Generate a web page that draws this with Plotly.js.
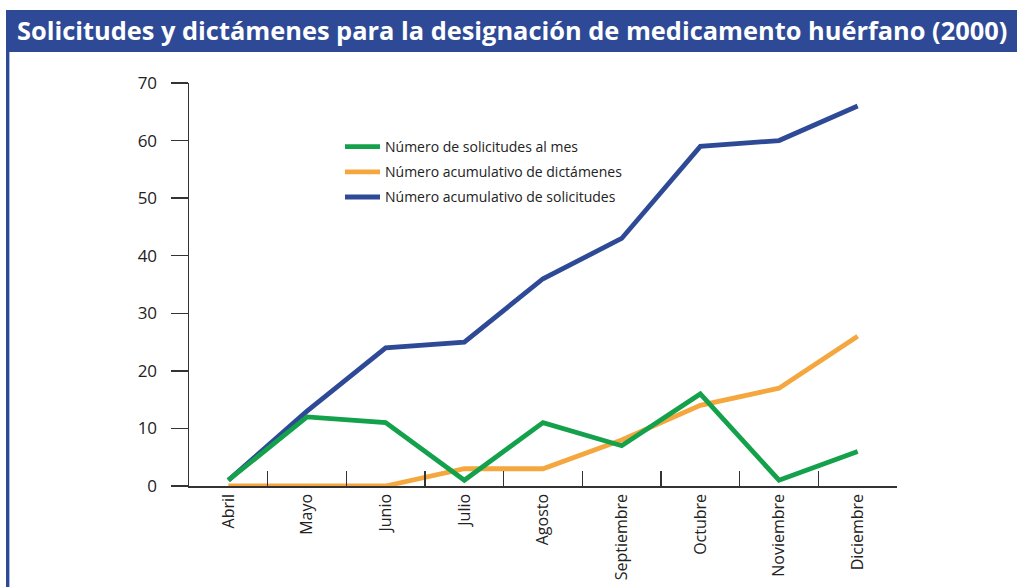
<!DOCTYPE html>
<html>
<head>
<meta charset="utf-8">
<script src="https://cdn.plot.ly/plotly-3.0.1.min.js"></script>
<style>
  html, body { margin: 0; padding: 0; background: #fff; }
  #grafico { width: 1017px; height: 587px; }
</style>
</head>
<body>
<div id="grafico"></div>
<script>
// Datos (año 2000)
const meses = ['Abril', 'Mayo', 'Junio', 'Julio', 'Agosto', 'Septiembre', 'Octubre', 'Noviembre', 'Diciembre'];
const solicitudesMes = [1, 12, 11, 1, 11, 7, 16, 1, 6];
const dictamenesAcum = [0, 0, 0, 3, 3, 8, 14, 17, 26];
const solicitudesAcum = [1, 13, 24, 25, 36, 43, 59, 60, 66];
const yTicks = [0, 10, 20, 30, 40, 50, 60, 70];

const azul = '#2e4a97';
const naranja = '#f5a73f';
const verde = '#14a14c';
const fuente = '"Open Sans", "Noto Sans", sans-serif';

// Márgenes en píxeles -> zona de trazado 189..897 x 83..486
const W = 1017, H = 587;
const m = { l: 189, r: 120, t: 83, b: 101 };
const pw = W - m.l - m.r, ph = H - m.t - m.b;
const px = (x) => (x - m.l) / pw;      // píxel -> coordenada paper
const py = (y) => (H - m.b - y) / ph;

function serie(nombre, valores, color, rango) {
    return {
        type: 'scatter', mode: 'lines',
        x: meses, y: valores, name: nombre,
        legendgroup: nombre, legendrank: rango,
        line: { color: color, width: 4.8 },
        hoverinfo: 'skip'
    };
}

// orden de dibujo: azul debajo, verde encima
const data = [
    serie('Número acumulativo de solicitudes', solicitudesAcum, azul, 3),
    serie('Número acumulativo de dictámenes', dictamenesAcum, naranja, 2),
    serie('Número de solicitudes al mes', solicitudesMes, verde, 1)
];

const layout = {
    width: W, height: H,
    margin: m,
    paper_bgcolor: '#ffffff',
    plot_bgcolor: '#ffffff',
    font: { family: fuente, color: '#222' },
    title: {
        text: '<b>Solicitudes y dictámenes para la designación de medicamento huérfano (2000)</b>',
        font: { family: fuente, size: 25.4, color: '#ffffff' },
        xref: 'container', x: 17 / W, xanchor: 'left',
        yref: 'container', y: 1 - 31 / H, yanchor: 'middle'
    },
    showlegend: true,
    legend: {
        x: px(340), y: py(131), xanchor: 'left', yanchor: 'top',
        traceorder: 'grouped', tracegroupgap: 4, itemwidth: 35,
        font: { family: fuente, size: 14, color: '#222' },
        bgcolor: 'rgba(0,0,0,0)'
    },
    xaxis: {
        type: 'category', range: [-0.5, 8.5],
        tickson: 'boundaries', ticks: 'inside', ticklen: 15, tickwidth: 1.2, tickcolor: '#333',
        showline: true, linecolor: '#333', linewidth: 1.5,
        showgrid: false, zeroline: false,
        tickangle: -90, ticklabelstandoff: 0,
        tickfont: { family: fuente, size: 16, color: '#222' }
    },
    yaxis: {
        range: [0, 70], tickmode: 'array', tickvals: yTicks,
        ticks: 'outside', ticklen: 17, tickwidth: 1.3, tickcolor: '#333',
        showline: true, linecolor: '#333', linewidth: 1.5,
        showgrid: false, zeroline: false,
        ticklabelstandoff: 10,
        tickfont: { family: fuente, size: 17, color: '#222' }
    },
    shapes: [
        // barra del título
        { type: 'rect', xref: 'paper', yref: 'paper', layer: 'below',
          x0: px(6), x1: px(1017), y0: py(52), y1: py(10),
          fillcolor: azul, line: { width: 0 } },
        // borde izquierdo
        { type: 'line', xref: 'paper', yref: 'paper',
          x0: px(7.5), x1: px(7.5), y0: py(52), y1: py(587),
          line: { color: azul, width: 3 } },
        { type: 'line', xref: 'paper', yref: 'paper',
          x0: px(9.5), x1: px(9.5), y0: py(52), y1: py(587),
          line: { color: '#a9b8e0', width: 1 } }
    ]
};

Plotly.newPlot('grafico', data, layout, { displayModeBar: false, staticPlot: true });
</script>
</body>
</html>
